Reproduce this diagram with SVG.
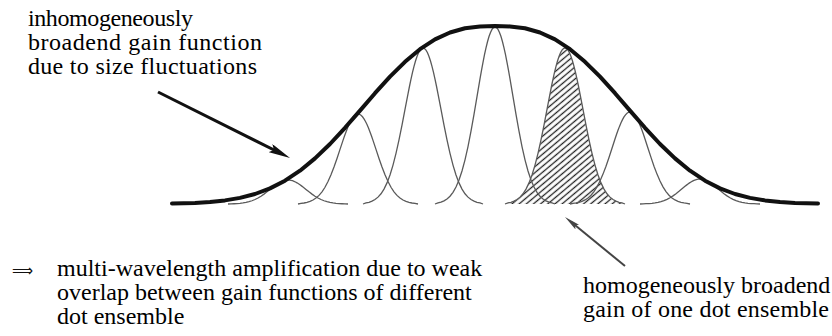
<svg xmlns="http://www.w3.org/2000/svg" xmlns:xlink="http://www.w3.org/1999/xlink" width="832" height="336" viewBox="0 0 832 336">
<style>
.t{font-family:"Liberation Serif","Times New Roman",serif;font-size:24px;fill:#000}
.env{fill:none;stroke:#111;stroke-width:4;stroke-linejoin:round;stroke-linecap:round}
.arr1{fill:none;stroke:#111;stroke-width:3}
.arr2{fill:none;stroke:#444;stroke-width:2}
</style>
<defs>
<pattern id="hatch" patternUnits="userSpaceOnUse" width="10" height="4.6" patternTransform="rotate(-40)">
<line x1="0" y1="2.3" x2="10" y2="2.3" stroke="#222" stroke-width="1.3"/>
</pattern>
<path id="gauss" fill="none" stroke="#5a5a5a" stroke-width="1.3" vector-effect="non-scaling-stroke" d="M-60,0 L-57,-.0066 L-54,-.0111 L-51,-.0181 L-48,-.0286 L-45,-.0439 L-42,-.0657 L-39,-.0956 L-36,-.1353 L-33,-.1863 L-30,-.2494 L-27,-.3247 L-24,-.4111 L-21,-.5063 L-18,-.6065 L-15,-.7066 L-13.5,-.7548 L-12,-.8007 L-10.5,-.8436 L-9,-.8825 L-7.5,-.9168 L-6,-.946 L-4.5,-.9692 L-3,-.9862 L-1.5,-.9965 L0,-1 L1.5,-.9965 L3,-.9862 L4.5,-.9692 L6,-.946 L7.5,-.9168 L9,-.8825 L10.5,-.8436 L12,-.8007 L13.5,-.7548 L15,-.7066 L18,-.6065 L21,-.5063 L24,-.4111 L27,-.3247 L30,-.2494 L33,-.1863 L36,-.1353 L39,-.0956 L42,-.0657 L45,-.0439 L48,-.0286 L51,-.0181 L54,-.0111 L57,-.0066 L60,0"/>
<marker id="head1" markerUnits="userSpaceOnUse" markerWidth="22" markerHeight="9" refX="12" refY="4.5" orient="auto">
<path d="M0,0 L22,4.5 L0,9 L4,4.5 Z" fill="#111"/>
</marker>
<marker id="head2" markerUnits="userSpaceOnUse" markerWidth="16" markerHeight="6" refX="8" refY="3" orient="auto">
<path d="M0,0 L16,3 L0,6 L3,3 Z" fill="#444"/>
</marker>
</defs>

<g id="dot-ensemble-hatched">
<path fill="url(#hatch)" d="M505,204 L508,203 L511,202.3 L514,201.2 L517,199.5 L520,197.2 L523,193.8 L526,189.1 L529,182.9 L532,174.9 L535,165.1 L538,153.3 L541,139.9 L544,125 L547,109.4 L550,93.8 L551.5,86.2 L553,79.1 L554.5,72.4 L556,66.3 L557.5,61 L559,56.4 L560.5,52.8 L562,50.2 L563.5,48.5 L565,48 L566.5,48.5 L568,50.2 L569.5,52.8 L571,56.4 L572.5,61 L574,66.3 L575.5,72.4 L577,79.1 L578.5,86.2 L580,93.8 L583,109.4 L586,125 L589,139.9 L592,153.3 L595,165.1 L598,174.9 L601,182.9 L604,189.1 L607,193.8 L610,197.2 L613,199.5 L616,201.2 L619,202.3 L622,203 L625,204 Z"/>
</g>

<g id="dot-gains">
<use xlink:href="#gauss" href="#gauss" transform="translate(288,204) scale(1,24)"/>
<use xlink:href="#gauss" href="#gauss" transform="translate(358,204) scale(1,90)"/>
<use xlink:href="#gauss" href="#gauss" transform="translate(423,204) scale(1,156)"/>
<use xlink:href="#gauss" href="#gauss" transform="translate(495,204) scale(1,177)"/>
<use xlink:href="#gauss" href="#gauss" transform="translate(565,204) scale(1,156)"/>
<use xlink:href="#gauss" href="#gauss" transform="translate(630,204) scale(1,92)"/>
<use xlink:href="#gauss" href="#gauss" transform="translate(700,204) scale(1,25)"/>
</g>

<g id="envelope">
<path class="env" d="M172,203.5 L195,203 L210,202 L225,200.4 L240,197.9 L255,194 L270,188.4 L285,180.7 L300,170.7 L315,158.4 L330,144 L345,127.8 L360,110.6 L375,93.2 L390,76.7 L405,61.8 L420,49.2 L435,39.4 L450,32.5 L465,28.3 L480,26.4 L495,26 L510,26.4 L525,28.3 L540,32.5 L555,39.4 L570,49.2 L585,61.8 L600,76.7 L615,93.2 L630,110.6 L645,127.8 L660,144 L675,158.4 L690,170.7 L705,180.7 L720,188.4 L735,194 L750,197.9 L765,200.4 L780,202 L795,203 L818,203.5"/>
</g>

<g id="connectors">
<path class="arr1" d="M158,92 L281.1,153.5" marker-end="url(#head1)"/>
<path class="arr2" d="M625,266 L571.2,222.1" marker-end="url(#head2)"/>
</g>

<g id="label-inhomogeneous">
<text class="t" x="28" y="26" textLength="165">inhomogeneously</text>
<text class="t" x="28" y="50" textLength="234">broadend gain function</text>
<text class="t" x="28" y="74" textLength="229">due to size fluctuations</text>
</g>

<g id="label-conclusion">
<text x="12" y="276" font-family="DejaVu Sans, sans-serif" font-size="16" textLength="21" lengthAdjust="spacingAndGlyphs" fill="#111">⟹</text>
<text class="t" x="57" y="276">multi-wavelength amplification due to weak</text>
<text class="t" x="57" y="300">overlap between gain functions of different</text>
<text class="t" x="57" y="324">dot ensemble</text>
</g>

<g id="label-homogeneous">
<text class="t" x="583" y="293">homogeneously broadend</text>
<text class="t" x="583" y="317" textLength="246">gain of one dot ensemble</text>
</g>
</svg>
